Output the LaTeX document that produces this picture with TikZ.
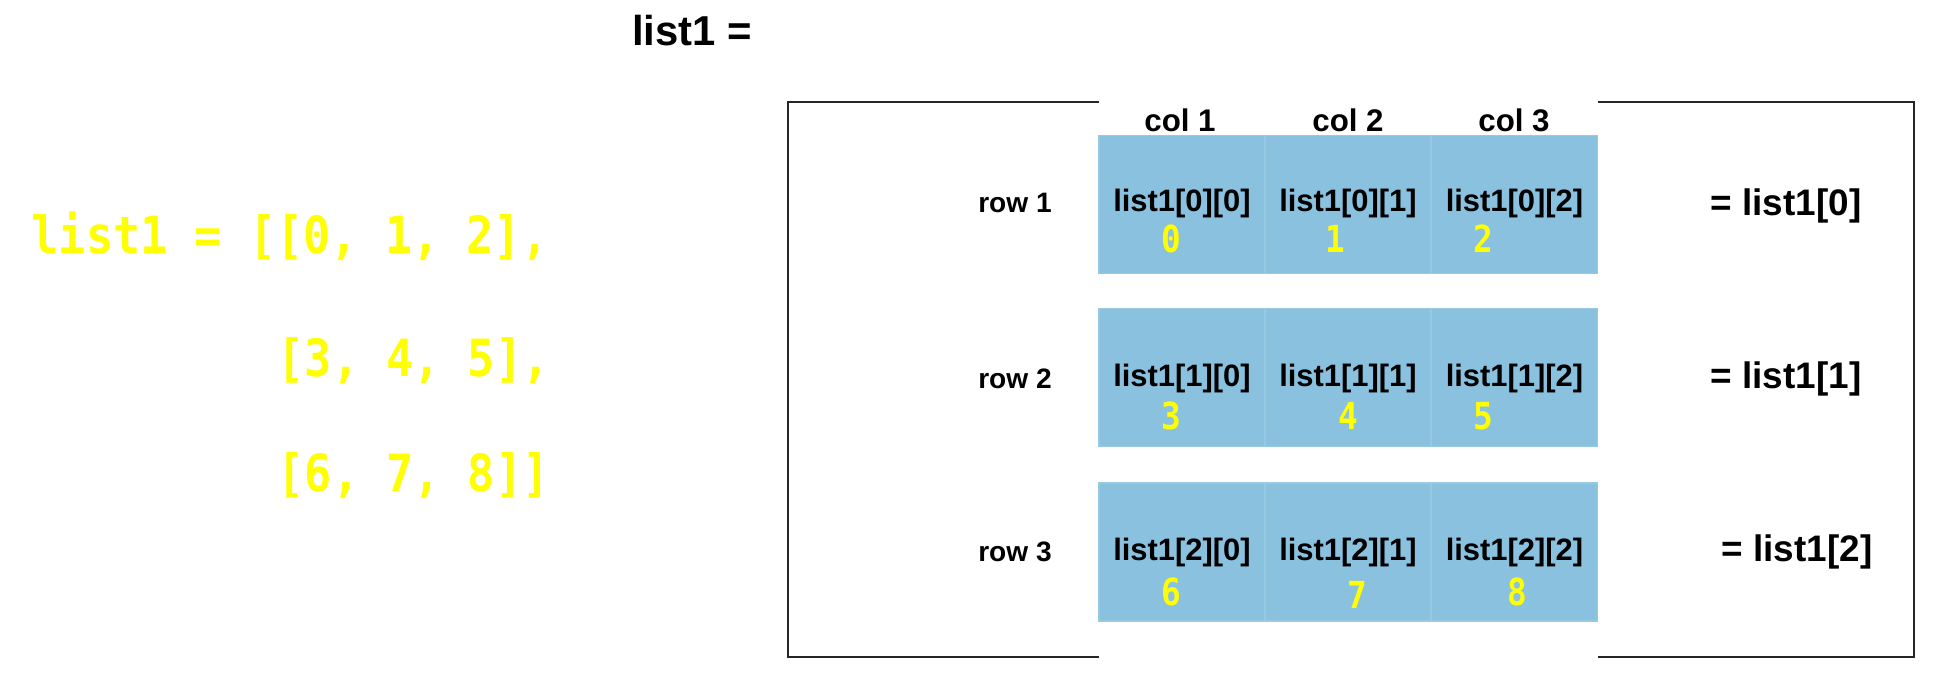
\documentclass[tikz,border=0pt]{standalone}
\usepackage{fontspec}
\setmainfont{Liberation Sans}
\newfontfamily\codefont[FakeStretch=0.88]{DejaVu Sans Mono}
\usetikzlibrary{positioning}
\definecolor{cellblue}{RGB}{137,193,222}
\definecolor{cellsep}{RGB}{152,201,226}
\definecolor{codeyellow}{RGB}{255,255,0}

\begin{document}
\begin{tikzpicture}[
        cell/.style={fill=cellblue, draw=cellsep, line width=0.4pt, minimum width=1.66cm, minimum height=1.38cm, inner sep=0pt},
        idx/.style={font=\bfseries\fontsize{8.8}{10}\selectfont, inner sep=0pt},
        val/.style={text=codeyellow, font=\codefont\bfseries\fontsize{10.6}{12}\selectfont, inner sep=0pt},
        code/.style={text=codeyellow, font=\codefont\bfseries\fontsize{14.6}{17}\selectfont, anchor=west, inner sep=0pt},
        head/.style={font=\bfseries\fontsize{8.9}{10}\selectfont, inner sep=0pt},
        rowlbl/.style={font=\bfseries\fontsize{8}{10}\selectfont, inner sep=0pt},
        eqlbl/.style={font=\bfseries\fontsize{10.5}{12}\selectfont, inner sep=0pt},
        frame/.style={line width=0.8pt, draw=black!85}
    ]
    \path[use as bounding box, fill=white] (0, 0) rectangle (19.33, -6.95);

    % python source
    \node[code] (line1) at (0.31, -2.36) {list1 = [[0, 1, 2],};
    \node[code] (line2) at (2.77, -3.61) {[3, 4, 5],};
    \node[code] (line3) at (2.77, -4.76) {[6, 7, 8]]};

    \node[font=\bfseries\fontsize{11.9}{14}\selectfont, inner sep=0pt] (title) at (6.92, -0.31) {list1 =};

    % open frame
    \coordinate (boxTL) at (7.88, -1.02);
    \coordinate (boxBL) at (7.88, -6.57);
    \coordinate (gapTL) at (10.99, -1.02);
    \coordinate (gapBL) at (10.99, -6.57);
    \coordinate (boxTR) at (19.14, -1.02);
    \coordinate (boxBR) at (19.14, -6.57);
    \coordinate (gapTR) at (15.98, -1.02);
    \coordinate (gapBR) at (15.98, -6.57);
    \draw[frame] (gapTL) -- (boxTL) -- (boxBL) -- (gapBL);
    \draw[frame] (gapTR) -- (boxTR) -- (boxBR) -- (gapBR);

    % cells
    \node[cell] (c00) at (11.820, -2.047) {};
    \node[cell] (c01) at (13.480, -2.047) {};
    \node[cell] (c02) at (15.145, -2.047) {};
    \node[cell] (c10) at (11.820, -3.772) {};
    \node[cell] (c11) at (13.480, -3.772) {};
    \node[cell] (c12) at (15.145, -3.772) {};
    \node[cell] (c20) at (11.820, -5.518) {};
    \node[cell] (c21) at (13.480, -5.518) {};
    \node[cell] (c22) at (15.145, -5.518) {};

    \node[head] (col1) at (11.80, -1.20) {col 1};
    \node[head] (col2) at (13.48, -1.20) {col 2};
    \node[head] (col3) at (15.14, -1.20) {col 3};

    \node[rowlbl] (row1) at (10.15, -2.03) {row 1};
    \node[rowlbl] (row2) at (10.15, -3.785) {row 2};
    \node[rowlbl] (row3) at (10.15, -5.52) {row 3};

    \node[idx] (i00) at (11.82, -2.03) {list1[0][0]};
    \node[idx] (i01) at (13.48, -2.03) {list1[0][1]};
    \node[idx] (i02) at (15.145, -2.03) {list1[0][2]};
    \node[idx] (i10) at (11.82, -3.785) {list1[1][0]};
    \node[idx] (i11) at (13.48, -3.785) {list1[1][1]};
    \node[idx] (i12) at (15.145, -3.785) {list1[1][2]};
    \node[idx] (i20) at (11.82, -5.52) {list1[2][0]};
    \node[idx] (i21) at (13.48, -5.52) {list1[2][1]};
    \node[idx] (i22) at (15.145, -5.52) {list1[2][2]};

    \node[val] (v00) at (11.71, -2.39) {0};
    \node[val] (v01) at (13.35, -2.39) {1};
    \node[val] (v02) at (14.83, -2.39) {2};
    \node[val] (v10) at (11.71, -4.16) {3};
    \node[val] (v11) at (13.48, -4.16) {4};
    \node[val] (v12) at (14.83, -4.16) {5};
    \node[val] (v20) at (11.71, -5.92) {6};
    \node[val] (v21) at (13.57, -5.95) {7};
    \node[val] (v22) at (15.17, -5.92) {8};

    \node[eqlbl] (eq0) at (17.86, -2.06) {= list1[0]};
    \node[eqlbl] (eq1) at (17.86, -3.79) {= list1[1]};
    \node[eqlbl] (eq2) at (17.97, -5.52) {= list1[2]};
\end{tikzpicture}
\end{document}
